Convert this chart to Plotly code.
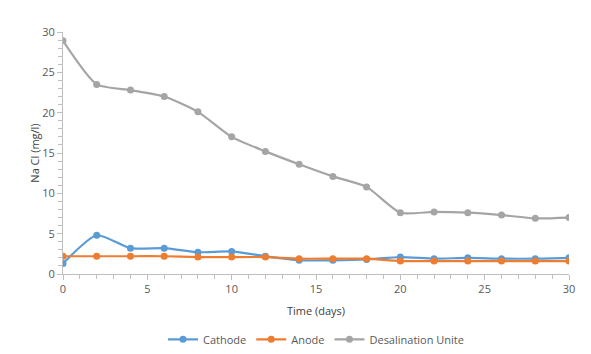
import plotly.graph_objects as go

days = [0, 2, 4, 6, 8, 10, 12, 14, 16, 18, 20, 22, 24, 26, 28, 30]
cathode = [1.3, 4.8, 3.2, 3.2, 2.7, 2.8, 2.2, 1.7, 1.7, 1.8, 2.1, 1.9, 2.0, 1.9, 1.9, 2.0]
anode = [2.2, 2.2, 2.2, 2.2, 2.1, 2.1, 2.1, 1.9, 1.9, 1.9, 1.6, 1.6, 1.6, 1.6, 1.6, 1.6]
desal = [28.9, 23.5, 22.8, 22.0, 20.1, 17.0, 15.2, 13.6, 12.1, 10.8, 7.6, 7.7, 7.6, 7.3, 6.9, 7.0]

series = [("Cathode", cathode, "#5B9BD5"), ("Anode", anode, "#ED7D31"), ("Desalination Unite", desal, "#A5A5A5")]

fig = go.Figure()
for name, vals, col in series:
    fig.add_trace(go.Scatter(x=days, y=vals, name=name, mode="lines+markers",
                             line=dict(color=col, width=2.2, shape="spline", smoothing=0.6),
                             marker=dict(color=col, size=7)))

font = "Open Sans, Liberation Sans, Arial"
axis_common = dict(showgrid=False, zeroline=False, showline=True, linecolor="#BFBFBF", linewidth=1,
                   ticks="outside", ticklen=5, tickcolor="#BFBFBF",
                   tickfont=dict(family=font, size=11, color="#595959"))
fig.update_xaxes(range=[0, 30], dtick=5, tick0=0,
                 minor=dict(dtick=1, ticks="outside", ticklen=4, tickcolor="#BFBFBF"),
                 title=dict(text="Time (days)", font=dict(family=font, size=11, color="#404040"), standoff=12),
                 **axis_common)
fig.update_yaxes(range=[0, 30], dtick=5, tick0=0,
                 minor=dict(dtick=1, ticks="outside", ticklen=4, tickcolor="#BFBFBF"),
                 title=dict(text="Na Cl (mg/l)", font=dict(family=font, size=11, color="#404040"), standoff=0),
                 **axis_common)

fig.update_layout(width=591, height=354, margin=dict(l=63, r=22, t=32, b=80, autoexpand=False),
                  plot_bgcolor="white", paper_bgcolor="white",
                  legend=dict(orientation="h", x=0.5, xanchor="center", y=-0.21, yanchor="top",
                              font=dict(family=font, size=11, color="#595959")),
                  showlegend=True)
fig.write_html("out.html")
